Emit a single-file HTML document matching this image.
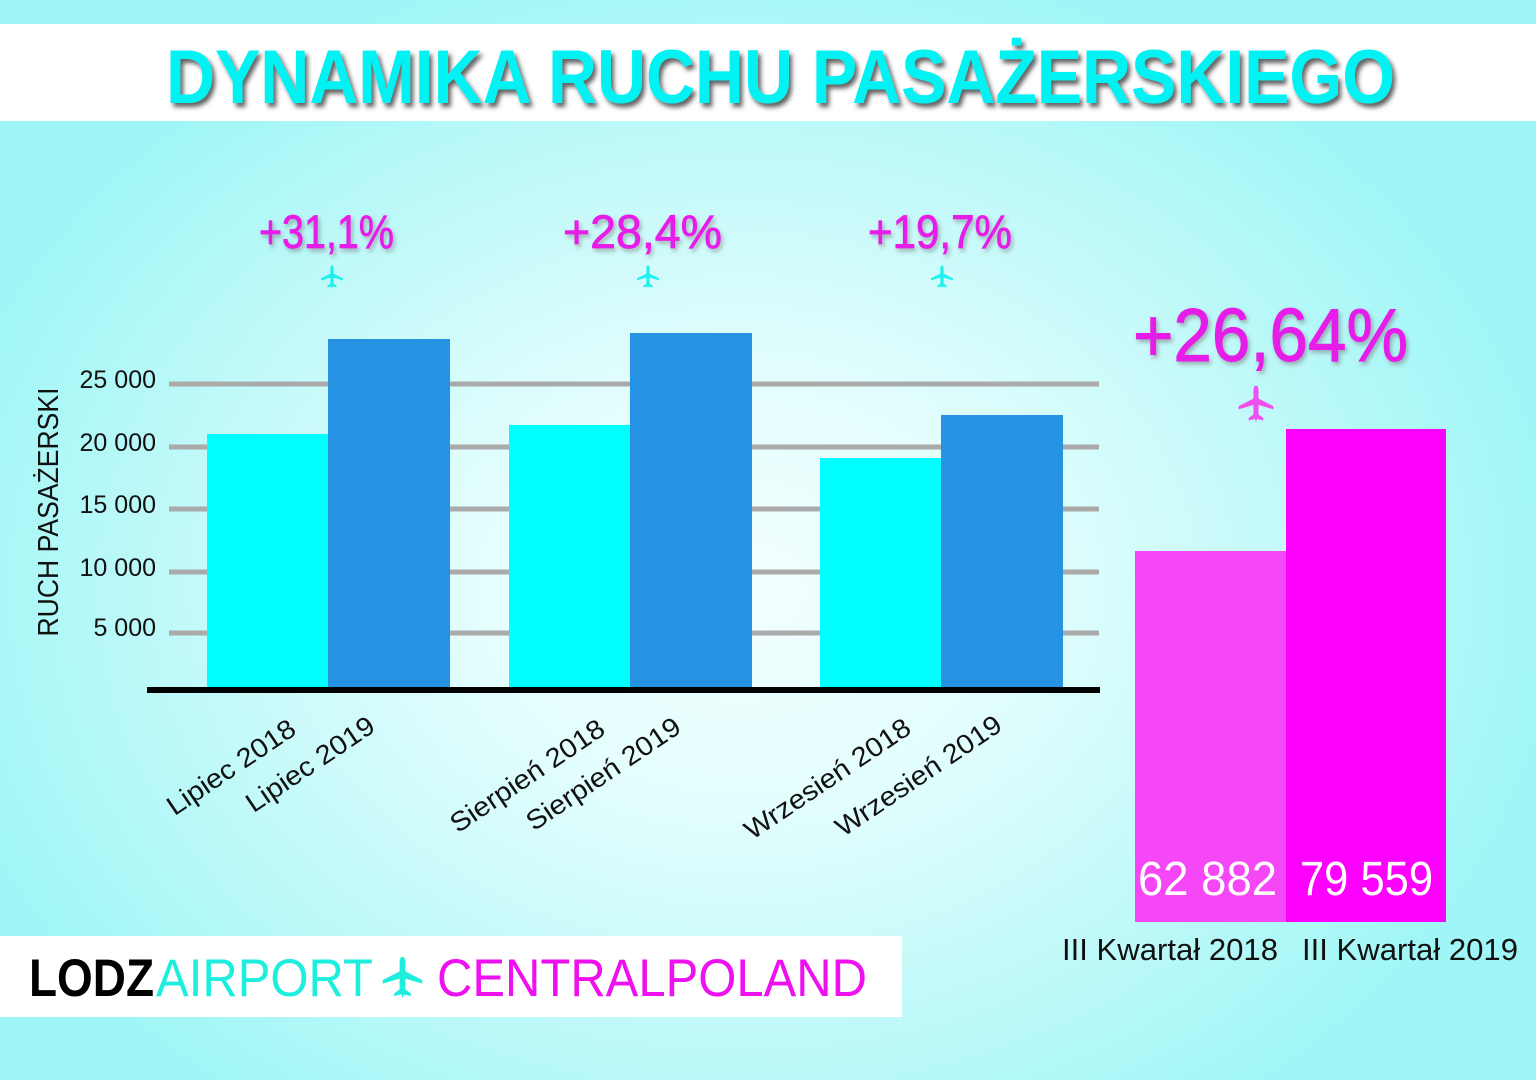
<!DOCTYPE html>
<html><head><meta charset="utf-8">
<style>
html,body{margin:0;padding:0;width:1536px;height:1080px;overflow:hidden;}
body{background:radial-gradient(ellipse 820px 640px at 740px 590px,#f4ffff 0%,#e2fdfd 35%,#c0f9f9 70%,#a0f6f6 100%);}
svg{position:absolute;left:0;top:0;}
text{font-family:"Liberation Sans","Noto Sans CJK SC",sans-serif;}
</style></head><body>
<svg width="1536" height="1080" viewBox="0 0 1536 1080" xmlns="http://www.w3.org/2000/svg">
<defs>
<filter id="sh" x="-5%" y="-30%" width="110%" height="170%"><feDropShadow dx="3" dy="4" stdDeviation="2.5" flood-color="#444" flood-opacity="0.85"/></filter>
<filter id="sh2" x="-10%" y="-30%" width="120%" height="170%"><feDropShadow dx="2" dy="3" stdDeviation="2" flood-color="#777" flood-opacity="0.55"/></filter>
<symbol id="plane" viewBox="0 0 24 24"><path d="M12 0.5 C13.1 0.5 13.6 1.8 13.6 3.2 V8.6 L23 13.4 V15.4 L13.6 12.6 V18.6 L16.6 20.8 V22.4 L12.6 21.4 L12 23.5 L11.4 21.4 L7.4 22.4 V20.8 L10.4 18.6 V12.6 L1 15.4 V13.4 L10.4 8.6 V3.2 C10.4 1.8 10.9 0.5 12 0.5 Z"/></symbol>
</defs>

<!-- Title band -->
<rect x="0" y="24" width="1536" height="97" fill="#ffffff"/>
<text x="166" y="103" font-size="76" font-weight="bold" fill="#00f2f2" textLength="1229" lengthAdjust="spacingAndGlyphs" filter="url(#sh)">DYNAMIKA RUCHU PASAŻERSKIEGO</text>

<!-- Gridlines -->
<g fill="#aaaaaa">
<rect x="169" y="381.5" width="930" height="5"/>
<rect x="169" y="444.5" width="930" height="5"/>
<rect x="169" y="506.5" width="930" height="5"/>
<rect x="169" y="569.5" width="930" height="5"/>
<rect x="169" y="630.5" width="930" height="5"/>
</g>

<!-- Y tick labels -->
<g font-size="25" fill="#111" text-anchor="end">
<text x="156" y="388">25 000</text>
<text x="156" y="451">20 000</text>
<text x="156" y="513">15 000</text>
<text x="156" y="576">10 000</text>
<text x="156" y="636">5 000</text>
</g>

<!-- Y axis title -->
<text x="58" y="512" font-size="29" fill="#111" text-anchor="middle" textLength="249" lengthAdjust="spacingAndGlyphs" transform="rotate(-90 58 512)">RUCH PASAŻERSKI</text>

<!-- Bars -->
<rect x="207" y="434" width="121" height="253" fill="#00ffff"/>
<rect x="328" y="339" width="122" height="348" fill="#2692e2"/>
<rect x="509" y="425" width="121" height="262" fill="#00ffff"/>
<rect x="630" y="333" width="122" height="354" fill="#2692e2"/>
<rect x="820" y="458" width="121" height="229" fill="#00ffff"/>
<rect x="941" y="415" width="122" height="272" fill="#2692e2"/>

<!-- Axis -->
<rect x="147" y="687" width="953" height="6" fill="#000"/>

<!-- Percent labels -->
<g font-size="47" fill="#e61ee8" stroke="#e61ee8" stroke-width="0.8" filter="url(#sh2)">
<text x="259" y="248" textLength="135" lengthAdjust="spacingAndGlyphs">+31,1%</text>
<text x="563" y="248" textLength="159" lengthAdjust="spacingAndGlyphs">+28,4%</text>
<text x="868" y="248" textLength="144" lengthAdjust="spacingAndGlyphs">+19,7%</text>
</g>
<g fill="#1ef0f0">
<use href="#plane" x="320" y="265" width="24" height="24"/>
<use href="#plane" x="636" y="265" width="24" height="24"/>
<use href="#plane" x="930" y="265" width="24" height="24"/>
</g>

<!-- X labels -->
<g font-size="27" fill="#111" text-anchor="end">
<text x="298" y="733" transform="rotate(-34 298 733)" textLength="149" lengthAdjust="spacingAndGlyphs">Lipiec 2018</text>
<text x="377" y="730" transform="rotate(-34 377 730)" textLength="149" lengthAdjust="spacingAndGlyphs">Lipiec 2019</text>
<text x="607" y="733" transform="rotate(-34 607 733)" textLength="180" lengthAdjust="spacingAndGlyphs">Sierpień 2018</text>
<text x="683" y="731" transform="rotate(-34 683 731)" textLength="180" lengthAdjust="spacingAndGlyphs">Sierpień 2019</text>
<text x="913" y="732" transform="rotate(-34 913 732)" textLength="194" lengthAdjust="spacingAndGlyphs">Wrzesień 2018</text>
<text x="1004" y="729" transform="rotate(-34 1004 729)" textLength="194" lengthAdjust="spacingAndGlyphs">Wrzesień 2019</text>
</g>

<!-- Right section -->
<text x="1133" y="361" font-size="75" fill="#e61ee8" stroke="#e61ee8" stroke-width="1" textLength="275" lengthAdjust="spacingAndGlyphs" filter="url(#sh2)">+26,64%</text>
<use href="#plane" x="1237" y="385" width="38" height="38" fill="#f050f0"/>
<rect x="1135" y="551" width="151" height="371" fill="#f547f5"/>
<rect x="1286" y="429" width="160" height="493" fill="#fc02fc"/>
<text x="1138" y="895" font-size="48" fill="#ffffff" textLength="139" lengthAdjust="spacingAndGlyphs">62 882</text>
<text x="1300" y="895" font-size="48" fill="#ffffff" textLength="133" lengthAdjust="spacingAndGlyphs">79 559</text>
<text x="1062" y="960" font-size="31" fill="#111" textLength="216" lengthAdjust="spacingAndGlyphs">III Kwartał 2018</text>
<text x="1302" y="960" font-size="31" fill="#111" textLength="216" lengthAdjust="spacingAndGlyphs">III Kwartał 2019</text>

<!-- Logo -->
<rect x="0" y="936" width="902" height="81" fill="#ffffff"/>
<text x="29" y="996" font-size="53" font-weight="bold" fill="#000" textLength="125" lengthAdjust="spacingAndGlyphs">LODZ</text>
<text x="156" y="996" font-size="53" fill="#1eeedd" textLength="217" lengthAdjust="spacingAndGlyphs">AIRPORT</text>
<use href="#plane" x="381" y="956" width="43" height="43" fill="#1eeedd"/>
<text x="437" y="996" font-size="53" fill="#ee10ee" textLength="430" lengthAdjust="spacingAndGlyphs">CENTRALPOLAND</text>
</svg>
</body></html>
